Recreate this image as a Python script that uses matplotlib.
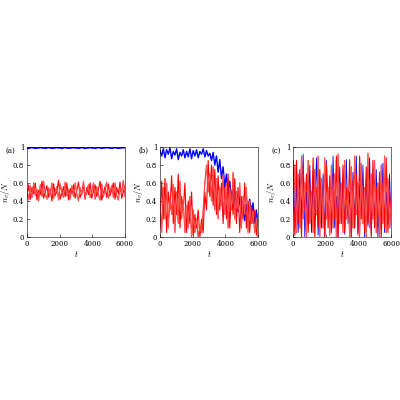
import numpy as np
import matplotlib.pyplot as plt

plt.rcParams['font.family'] = 'DejaVu Serif'
plt.rcParams['mathtext.fontset'] = 'cm'

# panel (a)
a_blue = [0.99, 0.985, 0.99, 0.995, 0.99, 0.985, 0.99, 0.99, 0.995, 0.99] * 6
a_red1 = [0.45, 0.58, 0.42, 0.55, 0.48, 0.6, 0.41, 0.52, 0.47, 0.62, 0.43, 0.5, 0.57, 0.44, 0.53,
          0.4, 0.59, 0.46, 0.51, 0.63, 0.42, 0.49, 0.56, 0.45, 0.6, 0.41, 0.54, 0.48, 0.58, 0.43,
          0.52, 0.61, 0.44, 0.5, 0.57, 0.42, 0.55, 0.47, 0.6, 0.43, 0.51, 0.58, 0.45, 0.53, 0.62,
          0.41, 0.49, 0.56, 0.44, 0.59, 0.46, 0.52, 0.6, 0.42, 0.55, 0.48, 0.61, 0.43, 0.5, 0.57]
a_red2 = [0.52, 0.41, 0.57, 0.44, 0.6, 0.46, 0.53, 0.4, 0.58, 0.45, 0.62, 0.48, 0.42, 0.55, 0.47,
          0.6, 0.43, 0.51, 0.56, 0.41, 0.59, 0.49, 0.44, 0.61, 0.46, 0.53, 0.42, 0.57, 0.45, 0.6,
          0.48, 0.4, 0.55, 0.47, 0.62, 0.43, 0.52, 0.58, 0.44, 0.5, 0.6, 0.42, 0.56, 0.47, 0.41,
          0.59, 0.45, 0.53, 0.61, 0.43, 0.5, 0.57, 0.44, 0.6, 0.46, 0.41, 0.55, 0.49, 0.63, 0.45]

# panel (b)
b_blue = [0.96, 0.9, 0.98, 0.88, 0.97, 0.92, 0.99, 0.87, 0.95, 0.91, 0.98, 0.86, 0.94, 0.9, 0.97,
          0.88, 0.95, 0.89, 0.98, 0.87, 0.96, 0.9, 0.97, 0.88, 0.95, 0.92, 0.98, 0.89, 0.96, 0.9,
          0.93, 0.85, 0.94, 0.8, 0.9, 0.72, 0.86, 0.65, 0.78, 0.55, 0.7, 0.48, 0.62, 0.4, 0.58,
          0.35, 0.5, 0.28, 0.46, 0.22, 0.4, 0.18, 0.36, 0.25, 0.42, 0.2, 0.38, 0.15, 0.3, 0.12]
b_red1 = [0.1, 0.62, 0.2, 0.65, 0.05, 0.5, 0.3, 0.68, 0.15, 0.55, 0.25, 0.7, 0.1, 0.45, 0.3,
          0.6, 0.05, 0.4, 0.15, 0.5, 0.02, 0.25, 0.1, 0.3, 0.0, 0.2, 0.05, 0.5, 0.3, 0.85,
          0.45, 0.8, 0.35, 0.75, 0.25, 0.68, 0.3, 0.6, 0.15, 0.55, 0.2, 0.7, 0.1, 0.5, 0.25,
          0.65, 0.15, 0.55, 0.05, 0.45, 0.2, 0.6, 0.1, 0.4, 0.05, 0.35, 0.15, 0.3, 0.02, 0.25]
b_red2 = [0.4, 0.05, 0.55, 0.2, 0.6, 0.1, 0.45, 0.25, 0.58, 0.05, 0.5, 0.15, 0.62, 0.2, 0.4,
          0.05, 0.35, 0.1, 0.45, 0.0, 0.3, 0.05, 0.2, 0.0, 0.1, 0.05, 0.3, 0.6, 0.8, 0.5,
          0.7, 0.4, 0.78, 0.3, 0.65, 0.2, 0.55, 0.35, 0.7, 0.25, 0.6, 0.1, 0.55, 0.3, 0.72,
          0.2, 0.5, 0.3, 0.6, 0.1, 0.45, 0.25, 0.55, 0.05, 0.4, 0.15, 0.3, 0.05, 0.2, 0.0]

# panel (c)
c_blue = [0.85, 0.1, 0.6, 0.05, 0.75, 0.2, 0.92, 0.0, 0.5, 0.15, 0.8, 0.05, 0.65, 0.3, 0.88,
          0.02, 0.55, 0.1, 0.7, 0.0, 0.85, 0.25, 0.6, 0.05, 0.9, 0.1, 0.45, 0.0, 0.78, 0.2,
          0.62, 0.03, 0.86, 0.15, 0.5, 0.0, 0.72, 0.1, 0.9, 0.05, 0.58, 0.2, 0.8, 0.0, 0.66,
          0.12, 0.88, 0.03, 0.55, 0.18, 0.75, 0.0, 0.6, 0.1, 0.82, 0.05, 0.5, 0.15, 0.7, 0.1]
c_red1 = [0.3, 0.8, 0.05, 0.7, 0.1, 0.9, 0.2, 0.6, 0.0, 0.85, 0.15, 0.5, 0.05, 0.75, 0.25,
          0.9, 0.0, 0.65, 0.1, 0.88, 0.2, 0.55, 0.02, 0.8, 0.1, 0.7, 0.0, 0.92, 0.15, 0.6,
          0.05, 0.85, 0.2, 0.5, 0.0, 0.78, 0.1, 0.9, 0.25, 0.6, 0.03, 0.82, 0.15, 0.55, 0.0,
          0.93, 0.1, 0.7, 0.2, 0.85, 0.05, 0.6, 0.0, 0.8, 0.15, 0.9, 0.05, 0.65, 0.1, 0.4]
c_red2 = [0.6, 0.02, 0.85, 0.15, 0.5, 0.0, 0.78, 0.3, 0.7, 0.05, 0.6, 0.2, 0.88, 0.0, 0.55,
          0.1, 0.75, 0.25, 0.45, 0.0, 0.82, 0.1, 0.68, 0.05, 0.5, 0.2, 0.9, 0.0, 0.6, 0.15,
          0.8, 0.05, 0.55, 0.25, 0.86, 0.0, 0.62, 0.1, 0.7, 0.02, 0.9, 0.2, 0.5, 0.05, 0.78,
          0.15, 0.6, 0.0, 0.85, 0.1, 0.55, 0.25, 0.72, 0.0, 0.6, 0.1, 0.88, 0.05, 0.5, 0.2]

t = np.linspace(0, 6000, 60)

fig = plt.figure(figsize=(4, 4), dpi=100)
panels = [
    ('(a)', 0.0675, a_blue, [a_red1, a_red2]),
    ('(b)', 0.400, b_blue, [b_red1, b_red2]),
    ('(c)', 0.733, c_blue, [c_red1, c_red2]),
]
for label, left, blue, reds in panels:
    ax = fig.add_axes([left, 0.4075, 0.245, 0.225])
    if label == '(c)':
        ax.plot(t, blue, color='blue', lw=0.6)
        for r in reds:
            ax.plot(t, r, color='red', lw=0.8)
        ax.plot(t, reds[0], color='#ff9090', lw=0.5, alpha=0.7)
    else:
        ax.plot(t, blue, color='blue', lw=1.2 if label == '(a)' else 1.0)
        for r in reds:
            ax.plot(t, r, color='red', lw=0.8)
        ax.plot(t, reds[1], color='#ff9090', lw=0.5, alpha=0.7)
    ax.set_xlim(0, 6000)
    ax.set_ylim(0, 1)
    ax.set_xticks([0, 2000, 4000, 6000])
    ax.set_yticks([0, 0.2, 0.4, 0.6, 0.8, 1])
    ax.set_yticklabels(['0', '0.2', '0.4', '0.6', '0.8', '1'])
    ax.tick_params(labelsize=5, direction='in', length=2, width=0.4, pad=2)
    for s in ax.spines.values():
        s.set_linewidth(0.4)
    ax.set_xlabel(r'$t$', fontsize=6, labelpad=1)
    ax.set_ylabel(r'$n_v/N$', fontsize=6, labelpad=1)
    ax.text(-0.12, 1.0, label, transform=ax.transAxes, fontsize=5, ha='right', va='top')

fig.savefig('out.png', dpi=100)
